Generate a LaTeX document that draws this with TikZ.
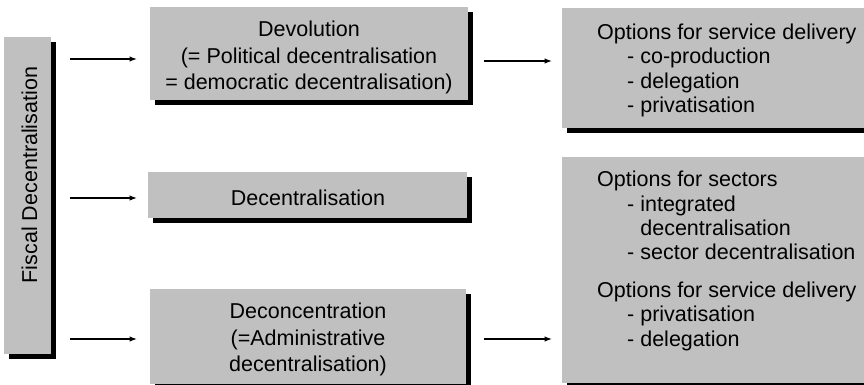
\documentclass[tikz,border=0pt]{standalone}
\usepackage{fontspec}
\setmainfont{Liberation Sans}
\usetikzlibrary{arrows.meta,shadows}
\definecolor{boxgray}{RGB}{192,192,192}
\begin{document}
\begin{tikzpicture}[x=1pt,y=-1pt,
  box/.style={fill=boxgray, inner sep=0pt, anchor=north west,
    drop shadow={fill=black, opacity=1, shadow xshift=4.5pt, shadow yshift=-4.5pt}},
  ctext/.style={inner sep=0pt, align=center, font=\fontsize{21.5}{26.5}\selectfont},
  ltext/.style={inner sep=0pt, align=left, anchor=north west, font=\fontsize{21.5}{24.4}\selectfont},
  arr/.style={line width=1.3pt, -{Latex[length=7.5pt,width=5.5pt]}}]
\useasboundingbox (0,0) rectangle (864,384);
% boxes
\node[box, minimum width=47pt, minimum height=317pt] (fiscal) at (4,37) {};
\node[box, minimum width=318pt, minimum height=93pt] (dev) at (150,7) {};
\node[box, minimum width=319pt, minimum height=46pt] (dec) at (148,172) {};
\node[box, minimum width=316pt, minimum height=95pt] (decon) at (150,289) {};
\node[box, minimum width=320pt, minimum height=120pt] (opt1) at (562,8) {};
\node[box, minimum width=320pt, minimum height=226pt] (opt2) at (562,157) {};
% texts
\node[inner sep=0pt, rotate=90, font=\fontsize{21.5}{25}\selectfont] (fiscaltxt) at (29.5,175) {Fiscal Decentralisation};
\node[ctext, anchor=north] (devtxt) at (309,21) {Devolution\\(= Political decentralisation\\= democratic decentralisation)};
\node[ctext, anchor=base] (dectxt) at (308,205) {Decentralisation};
\node[ctext, anchor=north] (decontxt) at (308,303) {Deconcentration\\(=Administrative\\decentralisation)};
\node[ltext] (opt1txt) at (597,23.5) {Options for service delivery\\
\hspace*{30pt}- co-production\\
\hspace*{30pt}- delegation\\
\hspace*{30pt}- privatisation};
\node[ltext] (opt2txt) at (597,171) {Options for sectors\\
\hspace*{30pt}- integrated\\
\hspace*{30pt}\phantom{- }decentralisation\\
\hspace*{30pt}- sector decentralisation\\[13pt]
Options for service delivery\\
\hspace*{30pt}- privatisation\\
\hspace*{30pt}- delegation};
% connectors
\coordinate (r1) at (0,59);
\coordinate (r2) at (0,198);
\coordinate (r3) at (0,339);
\coordinate (q1) at (0,61);
\draw[arr, shorten <=19pt, shorten >=13pt] (fiscal.east |- r1) -- (dev.west |- r1);
\draw[arr, shorten <=19pt, shorten >=11pt] (fiscal.east |- r2) -- (dec.west |- r2);
\draw[arr, shorten <=19pt, shorten >=13pt] (fiscal.east |- r3) -- (decon.west |- r3);
\draw[arr, shorten <=16pt, shorten >=10pt] (dev.east |- q1) -- (opt1.west |- q1);
\draw[arr, shorten <=18pt, shorten >=10pt] (decon.east |- r3) -- (opt2.west |- r3);
\end{tikzpicture}
\end{document}
